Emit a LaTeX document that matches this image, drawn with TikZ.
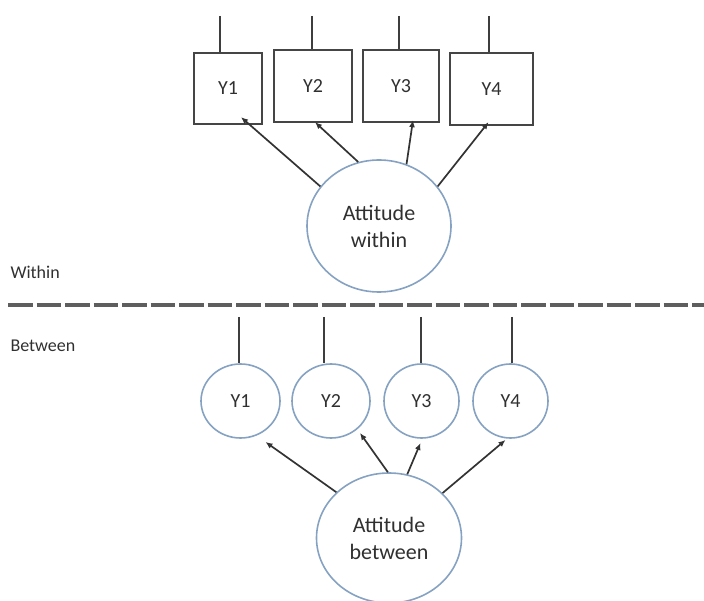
\documentclass[tikz,border=0pt]{standalone}
\usepackage{fontspec}
\setmainfont{Carlito}
\usetikzlibrary{shapes.geometric,arrows.meta}
\definecolor{boxc}{HTML}{454545}
\definecolor{circc}{HTML}{86A2C2}
\definecolor{txt}{HTML}{303030}
\definecolor{dashc}{HTML}{5E5E5E}
\tikzset{
  obsbox/.style={draw=boxc, line width=2.3pt, fill=white, inner sep=0pt, font=\fontsize{20}{24}\selectfont, text=txt},
  latcirc/.style={ellipse, draw=circc, line width=1.6pt, fill=white, inner sep=0pt, font=\fontsize{20}{24}\selectfont, text=txt},
  factor/.style={ellipse, draw=circc, line width=1.6pt, fill=white, inner sep=0pt, align=center, font=\fontsize{22}{27}\selectfont, text=txt},
  resid/.style={draw=boxc!90!black, line width=1.8pt},
  load/.style={draw=black!80, line width=1.7pt, -{Latex[length=7pt,width=6pt]}},
  lvl/.style={anchor=west, font=\fontsize{18}{21}\selectfont, text=txt},
}
\begin{document}
\begin{tikzpicture}[x=1pt,y=-1pt]
\useasboundingbox (0,0) rectangle (704,601);
% ---- within part
\node[obsbox, minimum width=68pt, minimum height=71pt] (b1) at (228,88.5) {Y1};
\node[obsbox, minimum width=78pt, minimum height=72pt] (b2) at (313,86) {Y2};
\node[obsbox, minimum width=76pt, minimum height=72pt] (b3) at (401,86) {Y3};
\node[obsbox, minimum width=83pt, minimum height=72pt] (b4) at (491.5,89) {Y4};
\node[factor, minimum width=144pt, minimum height=132pt] (fw) at (379,226) {Attitude\\within};
\coordinate (t1) at (220,16);
\coordinate (t2) at (312,16);
\coordinate (t3) at (399,16);
\coordinate (t4) at (489,16);
\foreach \i in {1,...,4}{\draw[resid] (t\i) -- (t\i |- b\i.north);}
\draw[load] (fw.146) -- ([shift={(13,-8)}]b1.south);
\draw[load] (fw.108) -- ([shift={(2,-1)}]b2.south);
\draw[load] (fw.66.5) -- ([shift={(12,-3)}]b3.south);
\draw[load] (fw.34) -- ([shift={(-3,-4)}]b4.south);
% ---- labels and divider
\node[lvl] (lw) at (7,272) {Within};
\node[lvl] (lb) at (7,346) {Between};
\coordinate (dl) at (8,305);
\coordinate (dr) at (704,305);
\draw[dashc, line width=3.2pt, dash pattern=on 24.5pt off 4pt] (dl) -- (dr);
% ---- between part
\node[latcirc, minimum width=79pt, minimum height=74pt] (c1) at (240.5,401) {Y1};
\node[latcirc, minimum width=78pt, minimum height=74pt] (c2) at (331,401) {Y2};
\node[latcirc, minimum width=75pt, minimum height=74pt] (c3) at (421.5,401) {Y3};
\node[latcirc, minimum width=75pt, minimum height=74pt] (c4) at (510.5,401) {Y4};
\node[factor, minimum width=145pt, minimum height=130pt] (fb) at (389,538) {Attitude\\between};
\coordinate (s1) at (239,317);
\coordinate (s2) at (324,317);
\coordinate (s3) at (421,317);
\coordinate (s4) at (512,317);
\foreach \i in {1,...,4}{\draw[resid] (s\i) -- (s\i |- c\i.north);}
\draw[load] (fb.139) -- ([shift={(25,41)}]c1.center);
\draw[load] (fb.91) -- ([shift={(29,32)}]c2.center);
\draw[load] (fb.74) -- ([shift={(-1,42)}]c3.center);
\draw[load] (fb.40) -- ([shift={(-5,39)}]c4.center);
\end{tikzpicture}
\end{document}
